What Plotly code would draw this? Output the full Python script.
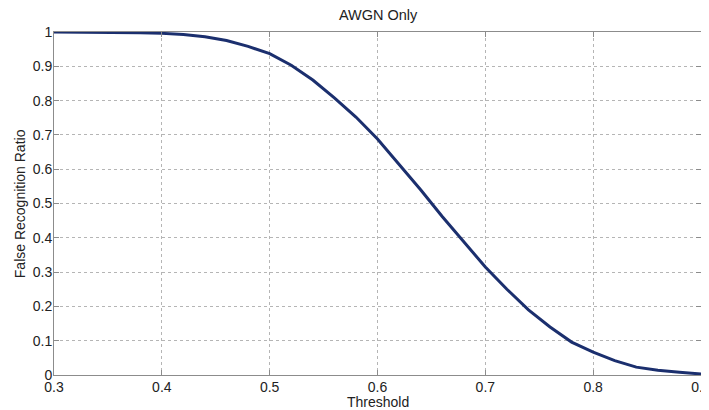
import plotly.graph_objects as go

threshold = [0.30, 0.32, 0.34, 0.36, 0.38, 0.40, 0.42, 0.44, 0.46, 0.48, 0.50,
             0.52, 0.54, 0.56, 0.58, 0.60, 0.62, 0.64, 0.66, 0.68, 0.70,
             0.72, 0.74, 0.76, 0.78, 0.80, 0.82, 0.84, 0.86, 0.88, 0.90]
ratio = [1.000, 1.000, 1.000, 0.999, 0.998, 0.996, 0.993, 0.986, 0.975, 0.958, 0.937,
         0.903, 0.860, 0.808, 0.752, 0.688, 0.615, 0.540, 0.462, 0.390, 0.315,
         0.250, 0.190, 0.140, 0.096, 0.067, 0.042, 0.023, 0.014, 0.008, 0.003]
x_ticks = [0.3, 0.4, 0.5, 0.6, 0.7, 0.8, 0.9]
x_ticklabels = ["0.3", "0.4", "0.5", "0.6", "0.7", "0.8", "0.9"]
y_ticks = [0, 0.1, 0.2, 0.3, 0.4, 0.5, 0.6, 0.7, 0.8, 0.9, 1]
y_ticklabels = ["0", "0.1", "0.2", "0.3", "0.4", "0.5", "0.6", "0.7", "0.8", "0.9", "1"]

FONT = "Liberation Sans, Arial, sans-serif"
AX = "#8c8c8c"
TXT = "#222222"

fig = go.Figure()
fig.add_trace(go.Scatter(x=threshold, y=ratio, mode="lines",
                         line=dict(color="#1b2f6e", width=3)))

axis_common = dict(showline=True, linecolor=AX, linewidth=1, mirror="ticks",
                   ticks="inside", ticklen=5, tickcolor=AX,
                   showgrid=True, gridcolor="#b5b5b5", griddash="dot", gridwidth=1,
                   zeroline=False, ticklabeloverflow="allow",
                   tickfont=dict(family=FONT, size=14, color=TXT))

fig.update_xaxes(range=[0.3, 0.9], tickvals=x_ticks, ticktext=x_ticklabels,
                 ticklabelstandoff=-1, automargin=False, **axis_common)
fig.update_yaxes(range=[0, 1], tickvals=y_ticks, ticktext=y_ticklabels,
                 ticklabelstandoff=-2, automargin=False, **axis_common)

# the page body has an 8px margin; the figure is sized to fill the rest of the window
fig.update_layout(
    width=701, height=402,
    margin=dict(l=46, r=8, t=24, b=35),
    paper_bgcolor="white", plot_bgcolor="white",
    showlegend=False,
    font=dict(family=FONT, size=14, color=TXT),
    title=dict(text="AWGN Only", x=0.528, xanchor="center", y=0.982, yanchor="middle",
               font=dict(family=FONT, size=14.5, color=TXT)),
    annotations=[
        dict(text="Threshold", xref="paper", yref="paper", x=0.501, y=-0.079,
             xanchor="center", yanchor="middle", showarrow=False,
             font=dict(family=FONT, size=14, color=TXT)),
        dict(text="False Recognition Ratio", xref="paper", yref="paper", x=-0.053, y=0.5,
             xanchor="center", yanchor="middle", textangle=-90, showarrow=False,
             font=dict(family=FONT, size=14, color=TXT)),
    ],
)

fig.write_html("out.html")
